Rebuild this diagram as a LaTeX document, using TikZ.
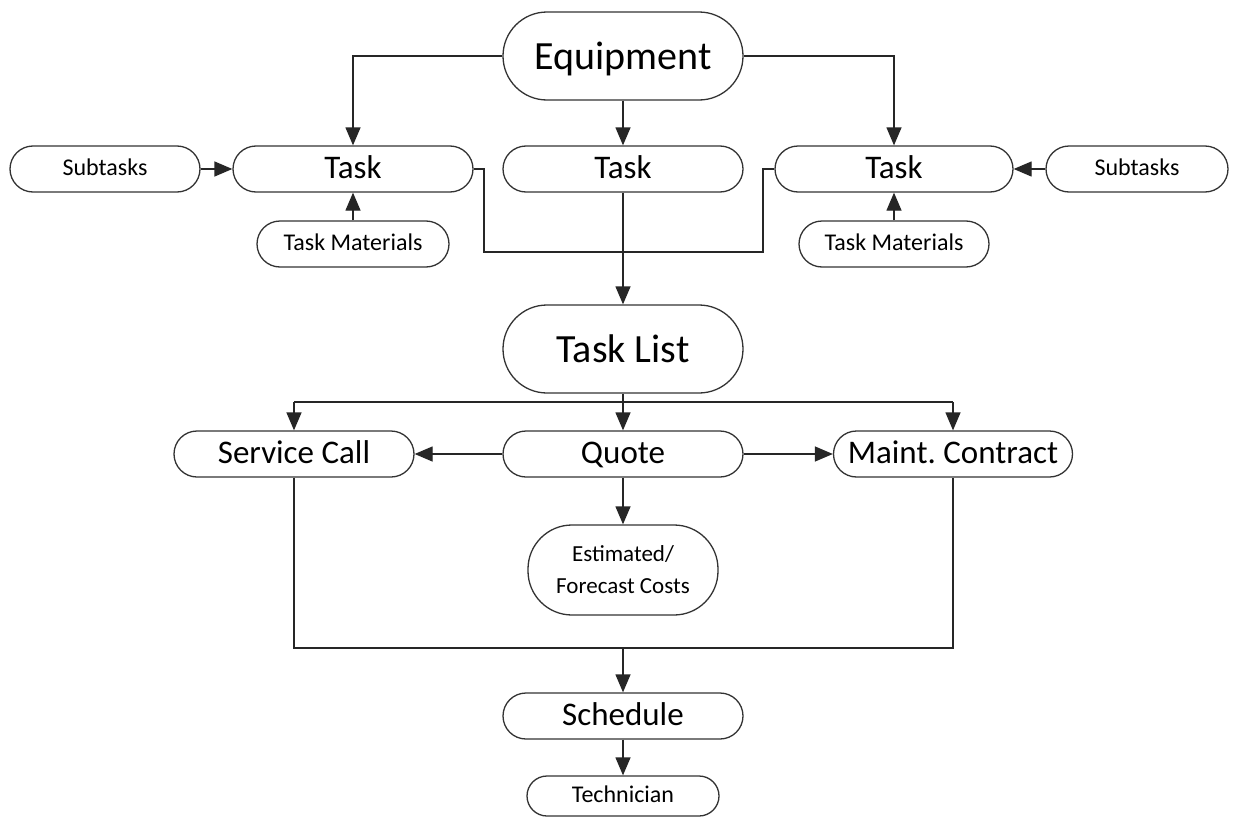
\documentclass[tikz,border=0pt]{standalone}
\usepackage{fontspec}
\setmainfont{Carlito}
\usetikzlibrary{arrows.meta}
\begin{document}
\begin{tikzpicture}[x=1pt,y=-1pt,
  box/.style={draw=black!80, line width=1.3pt, rounded corners=23pt, inner sep=0pt,
    minimum height=46pt, minimum width=240pt, align=center, text height=25pt, text depth=6pt,
    font=\fontsize{33}{36}\selectfont},
  bigbox/.style={box, rounded corners=44pt, minimum height=88pt, text height=30pt, text depth=4pt,
    font=\fontsize{40}{44}\selectfont},
  smallbox/.style={box, minimum width=190pt, text height=17pt, text depth=3.5pt,
    font=\fontsize{24}{27}\selectfont},
  line/.style={draw=black!85, line width=1.3pt},
  arr/.style={line, -{Triangle[length=18pt,width=15pt]}}]
\useasboundingbox (0,0) rectangle (1235,819);
\fill[white] (0,0) rectangle (1235,819);
% nodes
\node[bigbox] (eq) at (623,56) {Equipment};
\node[box] (taskL) at (353,169) {Task};
\node[box] (taskM) at (623,169) {Task};
\node[box, minimum width=238pt] (taskR) at (894,169) {Task};
\node[smallbox] (subL) at (105,169) {Subtasks};
\node[smallbox, minimum width=182pt] (subR) at (1137,169) {Subtasks};
\node[smallbox, minimum width=192pt] (tmL) at (353,244) {Task Materials};
\node[smallbox] (tmR) at (894,244) {Task Materials};
\node[bigbox] (tl) at (623,349) {Task List};
\node[box] (sc) at (294,454) {Service Call};
\node[box] (qt) at (623,454) {Quote};
\node[box, minimum width=239pt] (mc) at (953,454) {Maint.\ Contract};
\node[draw=black!80, line width=1.3pt, rounded corners=44pt, inner sep=0pt, minimum width=190pt,
  minimum height=90pt, align=center, font=\fontsize{23}{32}\selectfont] (est) at (623,570) {Estimated/\\Forecast Costs};
\node[box] (sch) at (623,716) {Schedule};
\node[smallbox, minimum width=192pt, minimum height=40pt, rounded corners=20pt] (tech) at (623,796) {Technician};
% coordinates
\coordinate (jL1) at (484,169);
\coordinate (jL2) at (484,252);
\coordinate (jR2) at (763,252);
\coordinate (jR1) at (763,169);
\coordinate (br) at (623,402);
\coordinate (brL) at (294,402);
\coordinate (brR) at (953,402);
\coordinate (mg) at (623,648);
\coordinate (mgL) at (294,648);
\coordinate (mgR) at (953,648);
% connectors
\draw[arr] (eq.west) -| (taskL.north);
\draw[arr] (eq.south) -- (taskM.north);
\draw[arr] (eq.east) -| (taskR.north);
\draw[arr] (subL.east) -- (taskL.west);
\draw[arr] (subR.west) -- (taskR.east);
\draw[arr] (tmL.north) -- (taskL.south);
\draw[arr] (tmR.north) -- (taskR.south);
\draw[line] (taskL.east) -- (jL1) -- (jL2) -- (jR2) -- (jR1) -- (taskR.west);
\draw[arr] (taskM.south) -- (tl.north);
\draw[line] (tl.south) -- (br);
\draw[line] (brL) -- (brR);
\draw[arr] (brL) -- (sc.north);
\draw[arr] (br) -- (qt.north);
\draw[arr] (brR) -- (mc.north);
\draw[arr] (qt.west) -- (sc.east);
\draw[arr] (qt.east) -- (mc.west);
\draw[arr] (qt.south) -- (est.north);
\draw[line] (sc.south) -- (mgL) -- (mgR) -- (mc.south);
\draw[arr] (mg) -- (sch.north);
\draw[arr] (sch.south) -- (tech.north);
\end{tikzpicture}
\end{document}
